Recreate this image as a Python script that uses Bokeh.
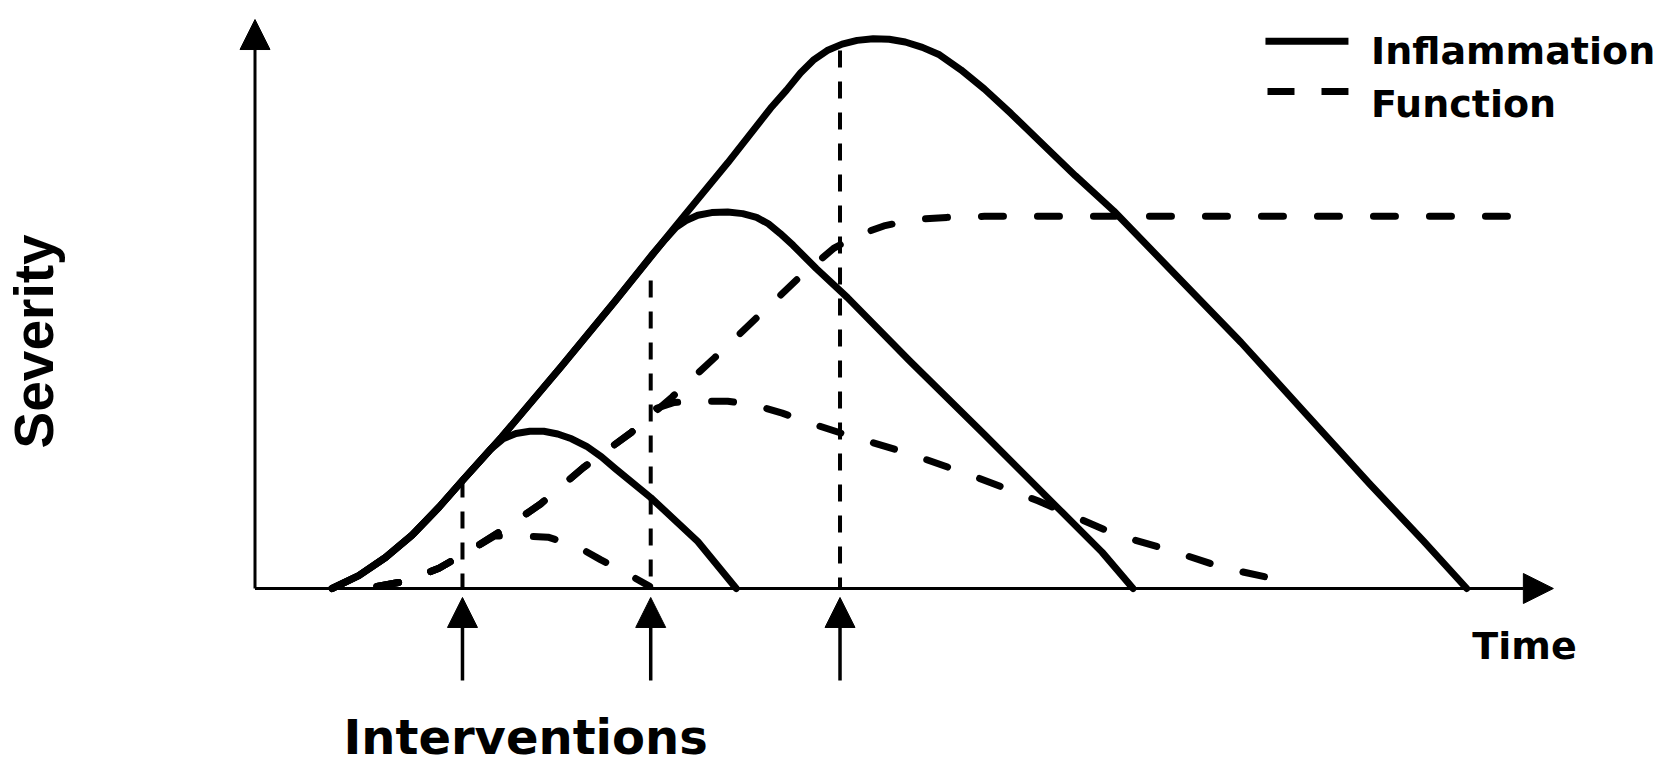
import math
from bokeh.plotting import figure
from bokeh.models import Range1d, Label, Arrow, NormalHead
from bokeh.embed import file_html
from bokeh.resources import INLINE

# ---------------- data (time, severity in arbitrary units) ----------------
infl_big_t = [7.2, 9.7, 12.2, 14.7, 17.2, 19.4, 23.1, 28.6, 33.7, 39.1, 44.2, 48.2, 49.7,
              51.0, 52.2, 53.5, 54.9, 56.3, 57.8, 59.3, 60.8, 62.4, 64.0, 66.0, 68.2, 70.7,
              73.7, 76.7, 80.3, 86.2, 92.2, 98.2, 104.2, 109.2, 113.3]
infl_big_s = [0.0, 1.2, 2.9, 5.0, 7.6, 10.1, 14.2, 20.7, 26.9, 33.6, 39.8, 44.9, 46.6,
              48.2, 49.4, 50.3, 50.9, 51.25, 51.4, 51.35, 51.1, 50.6, 49.9, 48.5, 46.7, 44.4,
              41.5, 38.6, 35.3, 29.2, 23.0, 16.4, 9.8, 4.5, 0.0]

infl_mid_t = [7.2, 9.7, 12.2, 14.7, 17.2, 19.4, 23.1, 28.6, 33.7, 37.2, 38.4, 39.4, 40.3,
              41.4, 42.7, 44.2, 45.6, 46.9, 48.0, 49.1, 50.3, 51.4, 52.5, 55.4, 61.2, 68.2,
              75.2, 79.2, 82.1]
infl_mid_s = [0.0, 1.2, 2.9, 5.0, 7.6, 10.1, 14.2, 20.7, 26.9, 31.3, 32.7, 33.8, 34.4,
              34.9, 35.15, 35.2, 35.05, 34.7, 34.1, 33.2, 32.1, 31.0, 29.9, 27.2, 21.3, 14.4,
              7.4, 3.4, 0.0]

infl_small_t = [7.2, 9.7, 12.2, 14.7, 17.2, 19.4, 21.2, 22.0, 23.2, 24.4, 25.7, 27.0, 28.3,
                29.6, 31.0, 32.4, 33.7, 37.0, 41.4, 45.0]
infl_small_s = [0.0, 1.2, 2.9, 5.0, 7.6, 10.1, 12.1, 13.0, 14.0, 14.5, 14.7, 14.7, 14.45,
                14.0, 13.3, 12.3, 11.2, 8.5, 4.4, 0.0]

func_big_t = [11.4, 14.2, 17.2, 20.2, 23.2, 26.7, 30.7, 35.2, 39.0, 43.0, 47.0, 50.8, 54.1,
              56.3, 58.8, 61.6, 64.7, 68.2, 119.2]
func_big_s = [0.2, 0.7, 1.9, 3.6, 5.5, 7.9, 11.3, 14.6, 17.9, 21.6, 25.4, 29.0, 31.8,
              33.0, 33.9, 34.5, 34.7, 34.8, 34.8]

func_mid_t = [11.4, 14.2, 17.2, 20.2, 23.2, 26.7, 30.7, 35.2, 37.4, 39.2, 41.5, 44.2, 46.6,
              49.3, 51.8, 55.2, 61.2, 67.2, 73.2, 80.6, 85.8, 90.7, 95.8, 97.4]
func_mid_s = [0.2, 0.7, 1.9, 3.6, 5.5, 7.9, 11.3, 14.6, 16.8, 17.4, 17.5, 17.5, 17.2,
              16.4, 15.5, 14.4, 12.6, 10.5, 8.2, 5.0, 3.5, 1.9, 0.8, 0.2]

func_small_t = [11.4, 14.2, 17.2, 20.2, 22.4, 24.9, 27.4, 30.0, 32.3, 34.6, 36.9]
func_small_s = [0.2, 0.7, 1.9, 3.6, 4.9, 4.9, 4.8, 4.0, 2.7, 1.5, 0.2]

intervention_t = [19.4, 37.0, 54.7]
intervention_top = [10.1, 28.8, 50.3]

time_axis_end = 121.4
severity_axis_end = 53.2

# ---------------- figure ----------------
W, H = 1669, 765
PX = 10.695                 # pixels per unit
ORIGIN_X, ORIGIN_Y = 254.5, 588.0   # pixel position of (0, 0) from top-left
X0 = -ORIGIN_X / PX
Y0 = -(H - ORIGIN_Y) / PX

p = figure(width=W, height=H,
           x_range=Range1d(X0, X0 + W / PX), y_range=Range1d(Y0, Y0 + H / PX),
           output_backend="svg", toolbar_location=None, min_border=0,
           x_axis_location=None, y_axis_location=None)
p.outline_line_color = None
p.grid.visible = False
p.background_fill_color = "white"
p.border_fill_color = "white"

BLACK = "black"
LW = 7
DASH = "22 34"


def head():
    return NormalHead(size=30, fill_color=BLACK, fill_alpha=1.0, line_color=BLACK, line_width=1)


# axes with arrow heads
p.add_layout(Arrow(x_start=0, y_start=0, x_end=0, y_end=severity_axis_end,
                   line_width=3, line_color=BLACK, end=head()))
p.add_layout(Arrow(x_start=0, y_start=0, x_end=time_axis_end, y_end=0,
                   line_width=3, line_color=BLACK, end=head()))

# dashed drop lines at interventions
p.segment(x0=intervention_t, y0=intervention_top, x1=intervention_t, y1=[0] * 3,
          line_width=4, line_color=BLACK, line_dash="17 14")

# inflammation curves (solid)
for xs, ys in [(infl_big_t, infl_big_s), (infl_mid_t, infl_mid_s), (infl_small_t, infl_small_s)]:
    p.line(xs, ys, line_width=LW, line_color=BLACK, line_join="round", line_cap="round")

# function curves (dashed)
for xs, ys in [(func_big_t, func_big_s), (func_mid_t, func_mid_s), (func_small_t, func_small_s)]:
    p.line(xs, ys, line_width=LW, line_color=BLACK, line_dash=DASH,
           line_join="round", line_cap="round")

# intervention arrows
for t in intervention_t:
    p.add_layout(Arrow(x_start=t, y_start=-8.6, x_end=t, y_end=-0.84,
                       line_width=3.5, line_color=BLACK, end=head()))

# legend (drawn manually)
p.line([94.48, 102.24], [51.17, 51.17], line_width=LW, line_color=BLACK, line_cap="butt")
p.line([94.67, 102.24], [46.47, 46.47], line_width=LW, line_color=BLACK, line_dash="27 27",
       line_cap="butt")

FONT = "DejaVu Sans"
p.add_layout(Label(x=104.35, y=50.3, text="Inflammation", text_font=FONT,
                   text_font_size="38px", text_font_style="bold", text_color=BLACK,
                   text_align="left", text_baseline="middle"))
p.add_layout(Label(x=104.35, y=45.3, text="Function", text_font=FONT,
                   text_font_size="38px", text_font_style="bold", text_color=BLACK,
                   text_align="left", text_baseline="middle"))
p.add_layout(Label(x=118.7, y=-5.33, text="Time", text_font=FONT,
                   text_font_size="38px", text_font_style="bold", text_color=BLACK,
                   text_align="center", text_baseline="middle"))
p.add_layout(Label(x=25.3, y=-13.84, text="Interventions", text_font=FONT,
                   text_font_size="48px", text_font_style="bold", text_color=BLACK,
                   text_align="center", text_baseline="middle"))
p.add_layout(Label(x=-20.66, y=23.1, text="Severity", text_font="Liberation Sans",
                   text_font_size="55px", text_font_style="bold", text_color=BLACK,
                   angle=math.pi / 2, text_align="center", text_baseline="middle"))

open("out.html", "w").write(file_html(p, INLINE))
